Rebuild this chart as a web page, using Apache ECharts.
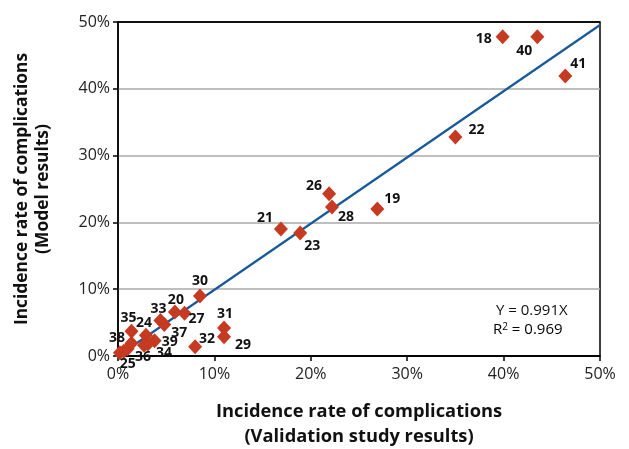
<!DOCTYPE html>
<html><head><meta charset="utf-8">
<script src="https://cdn.jsdelivr.net/npm/echarts@6/dist/echarts.min.js"></script>
<style>html,body{margin:0;padding:0;background:#fff}#c{width:629px;height:449px}</style>
</head><body><div id="c"></div>
<script>
// Study ids with validation (x) and model (y) incidence rates, in %
const ids  = ['18','40','41','22','26','28','19','21','23','30','20','27','33','37','31','29','32','35','24','39','34','36','38','25'];
const xVal = [39.9, 43.5, 46.4, 35.0, 21.9, 22.2, 26.9, 16.9, 18.9, 8.5, 5.9, 6.9, 4.4, 4.8, 11.0, 11.0, 8.0, 1.4, 2.9, 3.8, 3.1, 2.7, 0.2, 0.6];
const yVal = [47.8, 47.8, 41.9, 32.8, 24.3, 22.3, 22.0, 19.0, 18.4, 9.0, 6.6, 6.4, 5.3, 4.7, 4.2, 2.9, 1.4, 3.7, 3.1, 2.3, 1.8, 1.6, 0.5, 0.7];
const extraX = [1.0, 1.4];
const extraY = [1.1, 1.9];
const slope = 0.991;
const r2 = 0.969;
const xTicks = [0, 10, 20, 30, 40, 50];
const yTicks = [0, 10, 20, 30, 40, 50];

// label offsets (px, label centre relative to marker centre) — style only
const labelOff = {
  '18':[-19,2], '40':[-13,14], '41':[13,-12], '22':[21,-7], '26':[-15,-8], '28':[14,10],
  '19':[15,-10], '21':[-16,-11], '23':[12,13], '30':[0,-15], '20':[1,-12], '27':[12,6],
  '33':[-2,-12], '37':[15,8], '31':[1,-14], '29':[19,8], '32':[12,-8], '35':[-3,-13],
  '24':[-2,-12], '39':[15,1], '34':[16,9], '36':[-1,12], '38':[-3,-15], '25':[4,13]
};

const pts = ids.map((id,i)=>({
  value:[xVal[i], yVal[i]],
  name:id,
  label:{show:true, formatter:id, position:'inside', offset:labelOff[id]}
}));
extraX.forEach((x,i)=>pts.push({value:[x, extraY[i]], label:{show:false}}));

const chart = echarts.init(document.getElementById('c'));
const fontFam = '"Open Sans", "Noto Sans", sans-serif';
chart.setOption({
  animation:false,
  textStyle:{fontFamily:fontFam},
  grid:{left:118, right:29, top:22, bottom:93, show:true, borderColor:'#000', borderWidth:1.5, outerBoundsMode:'none', containLabel:false},
  xAxis:{
    type:'value', min:xTicks[0], max:xTicks[xTicks.length-1], interval:10,
    axisLine:{lineStyle:{color:'#000', width:1.5}},
    axisTick:{show:true, length:5, lineStyle:{color:'#000', width:1.5}},
    axisLabel:{formatter:v=>v+'%', color:'#222', fontSize:16, margin:10, fontFamily:fontFam},
    splitLine:{show:false},
    name:'Incidence rate of complications\n(Validation study results)',
    nameLocation:'middle', nameGap:43,
    nameTextStyle:{fontSize:18.3, fontWeight:'bold', color:'#111', lineHeight:25, fontFamily:fontFam}
  },
  yAxis:{
    type:'value', min:yTicks[0], max:yTicks[yTicks.length-1], interval:10,
    axisLine:{lineStyle:{color:'#000', width:1.5}},
    axisTick:{show:true, length:5, lineStyle:{color:'#000', width:1.5}},
    axisLabel:{formatter:v=>v+'%', color:'#222', fontSize:16, margin:8, fontFamily:fontFam},
    splitLine:{show:true, lineStyle:{color:['#000','#aaa','#aaa','#aaa','#aaa','#000'], width:1.5}},
    name:'Incidence rate of complications\n(Model results)',
    nameLocation:'middle', nameGap:64,
    nameTextStyle:{fontSize:17.4, fontWeight:'bold', color:'#111', lineHeight:21, fontFamily:fontFam}
  },
  series:[
    {
      type:'line', data:[[0,0],[50,50*slope]], showSymbol:false, symbol:'none',
      lineStyle:{color:'#165a9c', width:2.2}, z:2
    },
    {
      type:'scatter', data:pts, symbol:'diamond', symbolSize:[14,15],
      itemStyle:{color:'#c63a21', opacity:1}, z:3,
      label:{fontSize:14, fontWeight:'bold', color:'#111', fontFamily:fontFam}
    }
  ],
  graphic:[
    {type:'text', left:496, top:303, style:{text:'Y = ' + slope + 'X', font:'15px '+fontFam, fill:'#111'}},
    {type:'text', left:493, top:322, style:{text:'{a|R}{s|2}{a| = ' + r2 + '}', rich:{a:{fontSize:15, fontFamily:fontFam, color:'#111'}, s:{fontSize:10, fontFamily:fontFam, color:'#111', verticalAlign:'top', padding:[0,0,6,0]}}}}
  ]
});
</script></body></html>
